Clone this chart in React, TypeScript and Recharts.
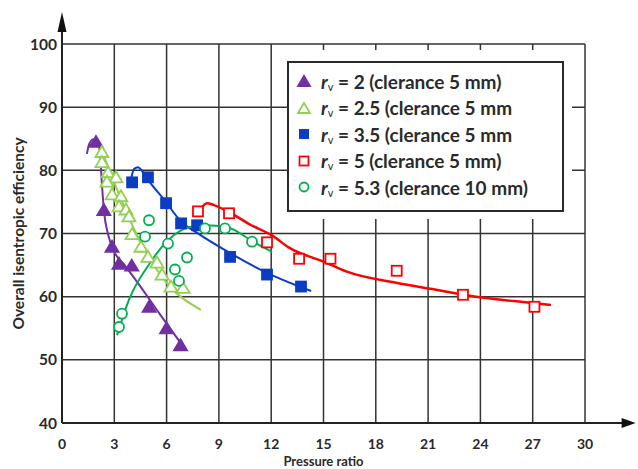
import React from 'react';
import { ComposedChart, Scatter, Line, XAxis, YAxis, CartesianGrid, ReferenceLine, ReferenceDot } from 'recharts';

const xTicks = [0, 3, 6, 9, 12, 15, 18, 21, 24, 27, 30];
const yTicks = [40, 50, 60, 70, 80, 90, 100];

// measured points
const rv2X = [1.95, 2.4, 2.87, 3.27, 4.0, 5.0, 6.0, 6.8];
const rv2Y = [84.5, 73.7, 67.9, 65.2, 64.9, 58.4, 55.0, 52.3];
const rv25X = [2.29, 2.29, 2.64, 3.1, 2.58, 2.87, 3.38, 3.27, 3.67, 3.84, 4.02, 4.53, 4.93, 5.45, 5.74, 6.25, 6.94];
const rv25Y = [82.9, 81.3, 79.7, 78.9, 78.2, 76.2, 75.9, 74.3, 73.8, 72.7, 69.9, 67.9, 66.3, 65.4, 63.5, 61.6, 61.4];
const rv35X = [4.02, 4.93, 5.97, 6.83, 7.75, 9.64, 11.76, 13.71];
const rv35Y = [78.1, 78.9, 74.8, 71.6, 71.3, 66.3, 63.5, 61.6];
const rv5X = [7.8, 9.58, 11.76, 13.6, 15.4, 19.2, 23.0, 27.1];
const rv5Y = [73.5, 73.2, 68.6, 66.0, 66.0, 64.1, 60.3, 58.4];
const rv53X = [3.27, 3.44, 4.76, 4.99, 6.08, 6.48, 6.71, 7.17, 8.2, 9.35, 10.9];
const rv53Y = [55.2, 57.3, 69.5, 72.1, 68.4, 64.3, 62.5, 66.2, 70.8, 70.8, 68.7];

// fitted curves
const rv2FitX = [1.43, 1.55, 1.78, 2.01, 2.18, 2.29, 2.41, 2.64, 2.98, 3.56, 4.42, 5.57, 7.11];
const rv2FitY = [82.6, 84.1, 84.9, 84.9, 82.6, 77.8, 73.5, 69.9, 67.2, 65.1, 61.9, 57.4, 51.5];
const rv25FitX = [2.24, 3.27, 4.42, 5.85, 7.97];
const rv25FitY = [83.4, 76.2, 69.1, 62.7, 57.9];
const rv35FitX = [3.96, 4.13, 4.36, 4.59, 4.99, 5.85, 6.83, 7.86, 9.58, 11.88, 14.29];
const rv35FitY = [78.6, 80.2, 80.5, 79.9, 78.3, 75.4, 71.9, 69.9, 67.0, 63.6, 60.9];
const rv5FitX = [7.92, 8.32, 8.72, 9.58, 10.73, 12.05, 13.0, 15.15, 16.3, 19.16, 21.46, 23.75, 25.93, 28.05];
const rv5FitY = [73.8, 74.8, 74.5, 73.4, 71.5, 69.7, 67.8, 65.4, 64.0, 62.2, 61.1, 60.0, 59.3, 58.7];
const rv53FitX = [3.16, 3.84, 4.99, 6.14, 7.29, 8.2, 9.47, 11.02, 12.05];
const rv53FitY = [53.9, 59.5, 65.1, 69.1, 71.0, 71.3, 71.0, 68.6, 67.1];

const zip = (xs: number[], ys: number[]) => xs.map((x, i) => ({ x, y: ys[i] }));

const PURPLE = '#7030A0';
const LIME = '#92D050';
const BLUE = '#0B3CC4';
const RED = '#FF0000';
const GREEN = '#00B050';
const INK = '#2a2a2a';
const FONT = 'Lato, "Open Sans", sans-serif';

const triangle = (fill: string, stroke: string) => (props: any) => {
  const { cx, cy } = props;
  return (
    <polygon
      points={`${cx},${cy - 6} ${cx - 6.5},${cy + 5} ${cx + 6.5},${cy + 5}`}
      fill={fill}
      stroke={stroke}
      strokeWidth={1.8}
    />
  );
};
const square = (fill: string, stroke: string) => (props: any) => {
  const { cx, cy } = props;
  return <rect x={cx - 5} y={cy - 5} width={10} height={10} fill={fill} stroke={stroke} strokeWidth={1.8} />;
};
const circle = (stroke: string) => (props: any) => {
  const { cx, cy } = props;
  return <circle cx={cx} cy={cy} r={5} fill="#fff" stroke={stroke} strokeWidth={1.8} />;
};

const YTitle = (props: any) => {
  const cy = props.viewBox.y + props.viewBox.height / 2;
  return (
    <text x={18} y={cy} transform={`rotate(-90, 18, ${cy})`} textAnchor="middle" dominantBaseline="central"
      fontFamily={FONT} fontWeight={700} fontSize={15.5} fill={INK}>
      Overall isentropic efficiency
    </text>
  );
};
const XTitle = (props: any) => {
  const cx = props.viewBox.x + props.viewBox.width / 2;
  return (
    <text x={cx} y={461} textAnchor="middle" dominantBaseline="central"
      fontFamily={FONT} fontWeight={700} fontSize={13} fill={INK}>
      Pressure ratio
    </text>
  );
};

const upArrow = (props: any) => {
  const { cx, cy } = props;
  return <polygon points={`${cx},${cy - 20} ${cx - 4.5},${cy} ${cx + 4.5},${cy}`} fill="#111" />;
};
const rightArrow = (props: any) => {
  const { cx, cy } = props;
  return <polygon points={`${cx + 14},${cy} ${cx},${cy - 5} ${cx},${cy + 5}`} fill="#111" />;
};

const legendRows = [
  { label: '2 (clerance 5 mm)', icon: 'tri' },
  { label: '2.5 (clerance 5 mm', icon: 'tri-open' },
  { label: '3.5 (clerance 5 mm', icon: 'sq' },
  { label: '5 (clerance 5 mm)', icon: 'sq-open' },
  { label: '5.3 (clerance 10 mm)', icon: 'circ' },
];

const LegendIcon = ({ icon }: { icon: string }) => (
  <svg width={18} height={18} style={{ display: 'block' }}>
    {icon === 'tri' && <polygon points="9,2 1.5,15 16.5,15" fill={PURPLE} />}
    {icon === 'tri-open' && <polygon points="9,4 3,14 15,14" fill="#fff" stroke={LIME} strokeWidth={1.8} />}
    {icon === 'sq' && <rect x={4} y={4} width={10} height={10} fill={BLUE} />}
    {icon === 'sq-open' && <rect x={4.5} y={4.5} width={9} height={9} fill="#fff" stroke={RED} strokeWidth={1.8} />}
    {icon === 'circ' && <circle cx={9} cy={9} r={4.5} fill="#fff" stroke={GREEN} strokeWidth={1.8} />}
  </svg>
);

const App: React.FC = () => {
  return (
    <div style={{ position: 'absolute', left: 0, top: 0, width: 638, height: 469, background: '#fff', fontFamily: FONT }}>
      <ComposedChart width={638} height={469} margin={{ top: 44, right: 53, bottom: 16, left: 12 }}>
        <CartesianGrid stroke="#333" strokeWidth={1.5} />
        <XAxis type="number" dataKey="x" domain={[0, 30]} ticks={xTicks} allowDataOverflow
          axisLine={{ stroke: '#222', strokeWidth: 2 }} tickLine={false} tickSize={0} tickMargin={16}
          tick={{ fontSize: 14, fontWeight: 700, fill: INK, fontFamily: FONT }} height={30}
          label={<XTitle />} />
        <YAxis type="number" dataKey="y" domain={[40, 100]} ticks={yTicks} allowDataOverflow width={50}
          axisLine={{ stroke: '#222', strokeWidth: 2 }} tickLine={false} tickSize={0} tickMargin={5}
          tick={{ fontSize: 15.5, fontWeight: 700, fill: INK, fontFamily: FONT }}
          label={<YTitle />} />
        <ReferenceLine segment={[{ x: 0, y: 100 }, { x: 0, y: 102 }]} stroke="#222" strokeWidth={2} ifOverflow="visible" />
        <ReferenceLine segment={[{ x: 30, y: 40 }, { x: 32.2, y: 40 }]} stroke="#222" strokeWidth={2} ifOverflow="visible" />
        <ReferenceDot x={0} y={101.9} ifOverflow="visible" shape={upArrow} />
        <ReferenceDot x={32.1} y={40} ifOverflow="visible" shape={rightArrow} />

        <Line data={zip(rv2FitX, rv2FitY)} dataKey="y" type="monotone" stroke={PURPLE} strokeWidth={2} dot={false} isAnimationActive={false} />
        <Line data={zip(rv25FitX, rv25FitY)} dataKey="y" type="monotone" stroke={LIME} strokeWidth={2} dot={false} isAnimationActive={false} />
        <Line data={zip(rv35FitX, rv35FitY)} dataKey="y" type="monotone" stroke={BLUE} strokeWidth={2} dot={false} isAnimationActive={false} />
        <Line data={zip(rv5FitX, rv5FitY)} dataKey="y" type="monotone" stroke={RED} strokeWidth={2.5} dot={false} isAnimationActive={false} />
        <Line data={zip(rv53FitX, rv53FitY)} dataKey="y" type="monotone" stroke={GREEN} strokeWidth={2} dot={false} isAnimationActive={false} />

        <Scatter data={zip(rv2X, rv2Y)} dataKey="y" shape={triangle(PURPLE, PURPLE)} isAnimationActive={false} />
        <Scatter data={zip(rv25X, rv25Y)} dataKey="y" shape={triangle('#fff', LIME)} isAnimationActive={false} />
        <Scatter data={zip(rv35X, rv35Y)} dataKey="y" shape={square(BLUE, BLUE)} isAnimationActive={false} />
        <Scatter data={zip(rv5X, rv5Y)} dataKey="y" shape={square('#fff', RED)} isAnimationActive={false} />
        <Scatter data={zip(rv53X, rv53Y)} dataKey="y" shape={circle(GREEN)} isAnimationActive={false} />
      </ComposedChart>

      <div style={{ position: 'absolute', left: 287, top: 50, width: 285, height: 169, background: '#fff' }}>
        <div style={{ position: 'absolute', left: 0, top: 11, width: 277, height: 151, boxSizing: 'border-box',
          border: `2px solid ${INK}`, paddingTop: 5, paddingLeft: 6 }}>
          {legendRows.map((r) => (
            <div key={r.label} style={{ display: 'flex', alignItems: 'center', height: 26.5, whiteSpace: 'nowrap',
              fontWeight: 700, fontSize: 19, color: INK }}>
              <LegendIcon icon={r.icon} />
              <span style={{ marginLeft: 8 }}>
                <i>r</i><sub style={{ fontSize: 11, fontWeight: 400, verticalAlign: -2 }}>v</sub> = {r.label}
              </span>
            </div>
          ))}
        </div>
      </div>
    </div>
  );
};

export default App;
